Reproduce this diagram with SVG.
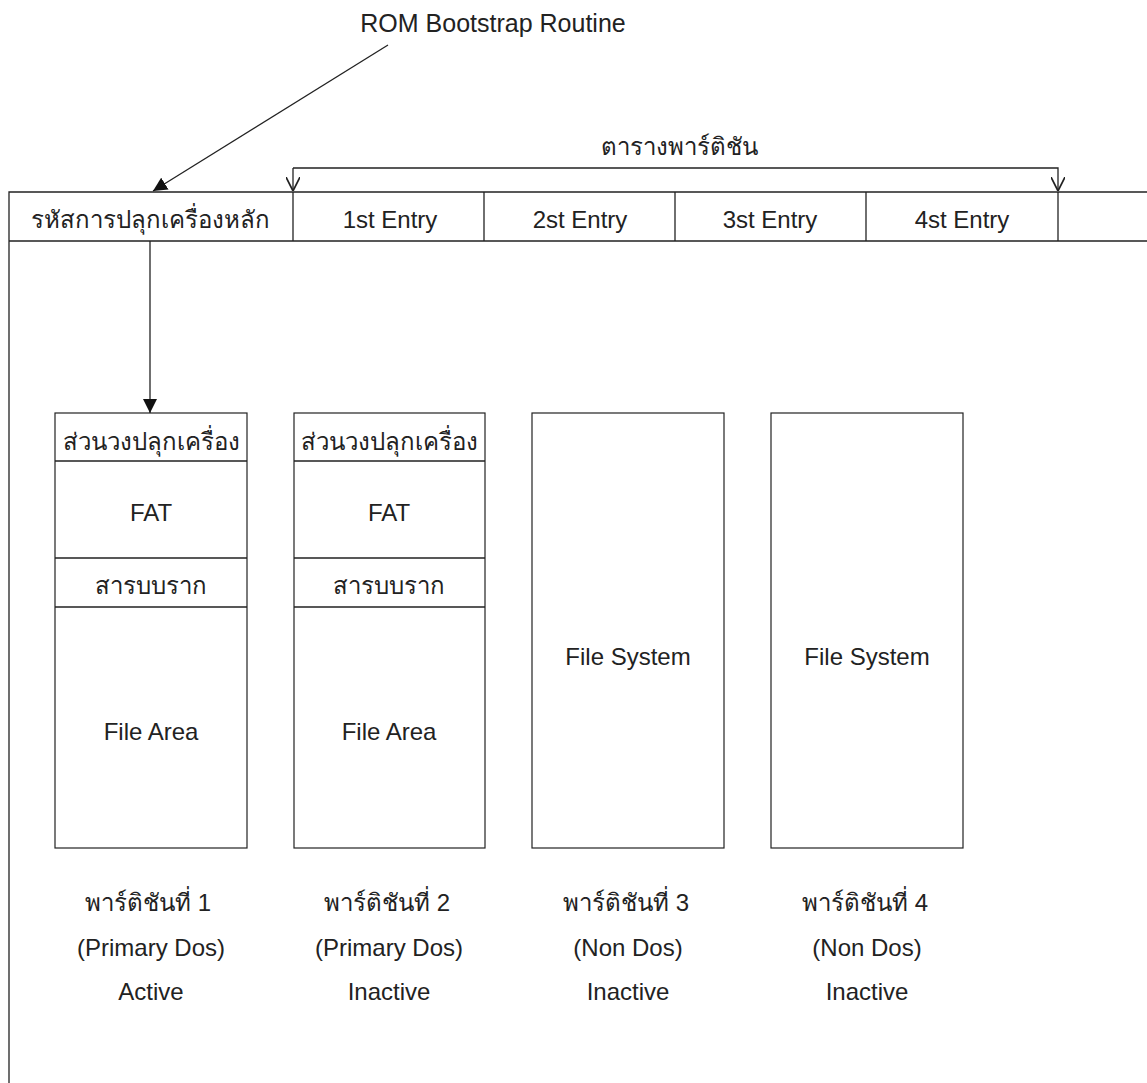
<svg xmlns="http://www.w3.org/2000/svg" width="1147" height="1083" viewBox="0 0 1147 1083">
<style>
.ln{stroke:#222;stroke-width:1.3;fill:none}
.box{stroke:#222;stroke-width:1.2;fill:#fff}
text{font-family:"Liberation Sans","Noto Sans",Arial,sans-serif;fill:#222;text-anchor:middle}
.en{font-size:24px}
.th{font-size:24px}
.rom{font-size:25px}
</style>
<defs>
<marker id="fill" viewBox="0 0 10 10" refX="10" refY="5" markerWidth="14" markerHeight="14" markerUnits="userSpaceOnUse" orient="auto">
<path d="M0,0 L10,5 L0,10 Z" fill="#111"/>
</marker>
<marker id="open" viewBox="0 0 10 10" refX="10" refY="5" markerWidth="14" markerHeight="14" markerUnits="userSpaceOnUse" orient="auto">
<path d="M0,0 L10,5 L0,10" fill="none" stroke="#222" stroke-width="1.2"/>
</marker>
</defs>
<rect width="1147" height="1083" fill="#fff"/>

<g id="frame">
<path class="ln" d="M9,1083 V192 H1147 M9,241 H1147"/>
</g>

<g id="mbr">
<text class="th" x="150" y="228">รหัสการปลุกเครื่องหลัก</text>
</g>
<g id="entry1"><path class="ln" d="M293,192 V241"/><text class="en" x="390" y="228">1st Entry</text></g>
<g id="entry2"><path class="ln" d="M484,192 V241"/><text class="en" x="580" y="228">2st Entry</text></g>
<g id="entry3"><path class="ln" d="M675,192 V241"/><text class="en" x="770" y="228">3st Entry</text></g>
<g id="entry4"><path class="ln" d="M866,192 V241"/><text class="en" x="962" y="228">4st Entry</text><path class="ln" d="M1058,192 V241"/></g>

<g id="rom-label"><text class="rom" x="493" y="32">ROM Bootstrap Routine</text></g>
<g id="ptable-label"><text class="th" x="679" y="155">ตารางพาร์ติชัน</text></g>

<g id="partition1">
<rect class="box" x="55" y="413" width="192" height="435"/>
<path class="ln" d="M55,461 H247 M55,558 H247 M55,607 H247"/>
<text class="th" x="151" y="450">ส่วนวงปลุกเครื่อง</text>
<text class="en" x="151" y="521">FAT</text>
<text class="th" x="151" y="594">สารบบราก</text>
<text class="en" x="151" y="740">File Area</text>
<text class="th" x="148" y="911">พาร์ติชันที่ 1</text>
<text class="en" x="151" y="956">(Primary Dos)</text>
<text class="en" x="151" y="1000">Active</text>
</g>
<g id="partition2">
<rect class="box" x="294" y="413" width="191" height="435"/>
<path class="ln" d="M294,461 H485 M294,558 H485 M294,607 H485"/>
<text class="th" x="389" y="450">ส่วนวงปลุกเครื่อง</text>
<text class="en" x="389" y="521">FAT</text>
<text class="th" x="389" y="594">สารบบราก</text>
<text class="en" x="389" y="740">File Area</text>
<text class="th" x="387" y="911">พาร์ติชันที่ 2</text>
<text class="en" x="389" y="956">(Primary Dos)</text>
<text class="en" x="389" y="1000">Inactive</text>
</g>
<g id="partition3">
<rect class="box" x="532" y="413" width="192" height="435"/>
<text class="en" x="628" y="665">File System</text>
<text class="th" x="626" y="911">พาร์ติชันที่ 3</text>
<text class="en" x="628" y="956">(Non Dos)</text>
<text class="en" x="628" y="1000">Inactive</text>
</g>
<g id="partition4">
<rect class="box" x="771" y="413" width="192" height="435"/>
<text class="en" x="867" y="665">File System</text>
<text class="th" x="865" y="911">พาร์ติชันที่ 4</text>
<text class="en" x="867" y="956">(Non Dos)</text>
<text class="en" x="867" y="1000">Inactive</text>
</g>

<g id="connectors">
<path class="ln" d="M388,45 L153,191" marker-end="url(#fill)"/>
<path class="ln" d="M150,241 V413" marker-end="url(#fill)"/>
<path class="ln" d="M293,168 V191" marker-end="url(#open)"/>
<path class="ln" d="M293,168 H1058 V191" marker-end="url(#open)"/>
</g>
</svg>
